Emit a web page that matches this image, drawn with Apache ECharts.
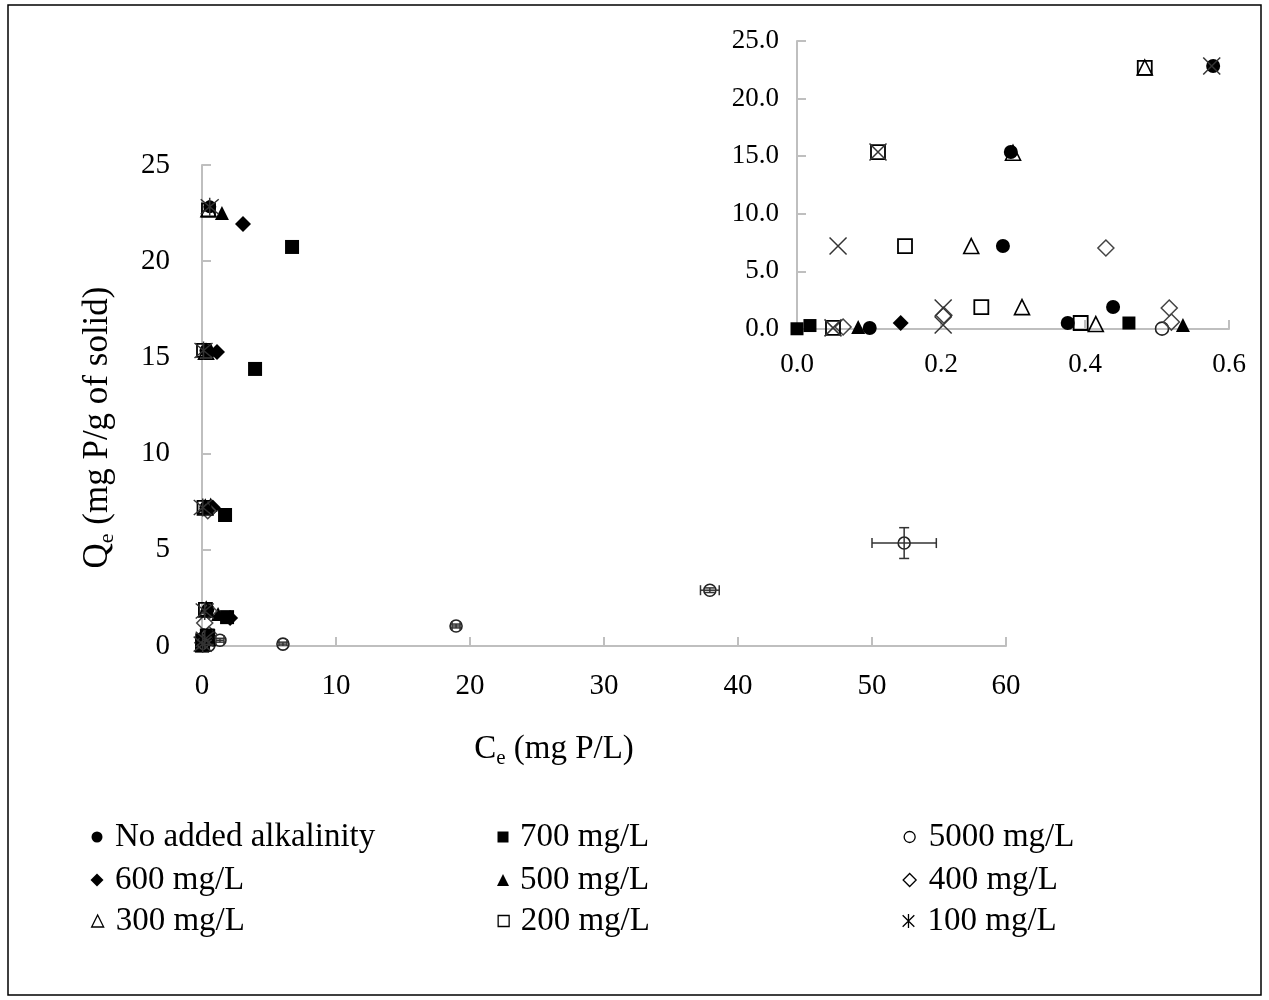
<!DOCTYPE html>
<html>
<head>
<meta charset="utf-8">
<title>Phosphorus sorption isotherms</title>
<script src="https://cdn.jsdelivr.net/npm/echarts@6/dist/echarts.min.js"></script>
<style>
  html, body { margin: 0; padding: 0; background: #fff; }
  #chart { width: 1269px; height: 1000px; }
</style>
</head>
<body>
<div id="chart"></div>
<script>
// Equilibrium data: [Ce (mg P/L), Qe (mg P/g of solid)] per alkalinity dose
const noAlkalinity = [[0.101, 0.09], [0.376, 0.52], [0.439, 1.91], [0.286, 7.2], [0.297, 15.36], [0.578, 22.83]];
const alk700 = [[0.0, 0.02], [0.018, 0.3], [0.461, 0.52], [1.87, 1.5], [1.72, 6.81], [3.96, 14.4], [6.72, 20.74]];
const alk5000 = [[0.507, 0.03], [1.34, 0.3], [6.04, 0.1], [18.96, 1.04], [37.9, 2.9], [52.4, 5.35]];
const alk600 = [[0.144, 0.52], [2.1, 1.45], [0.8, 7.2], [1.12, 15.28], [3.06, 21.93]];
const alk500 = [[0.085, 0.17], [0.536, 0.35], [1.2, 1.66], [0.65, 7.35], [0.65, 15.4], [1.49, 22.5]];
const alk400 = [[0.064, 0.17], [0.204, 1.2], [0.52, 0.6], [0.517, 1.82], [0.429, 7.03]];
const alk300 = [[0.415, 0.43], [0.3125, 1.9], [0.242, 7.2], [0.3, 15.3], [0.483, 22.7]];
const alk200 = [[0.05, 0.1], [0.394, 0.52], [0.256, 1.9], [0.15, 7.2], [0.1125, 15.36], [0.483, 22.66]];
const alk100 = [[0.05, 0.1], [0.203, 0.35], [0.203, 1.82], [0.057, 7.2], [0.1125, 15.36], [0.576, 22.83]];

// Standard deviations for the 5000 mg/L replicates (same order as alk5000)
const errCe5000 = [0.05, 0.3, 0.3, 0.3, 0.7, 2.4];
const errQe5000 = [0.05, 0.1, 0.1, 0.1, 0.12, 0.8];

// Axis ticks
const mainXTicks = { min: 0, max: 60, interval: 10 };
const mainYTicks = { min: 0, max: 25, interval: 5 };
const insetXTicks = { min: 0, max: 0.6, interval: 0.2 };
const insetYTicks = { min: 0, max: 25, interval: 5 };

const seriesNames = ['No added alkalinity', '700 mg/L', '5000 mg/L', '600 mg/L', '500 mg/L', '400 mg/L', '300 mg/L', '200 mg/L', '100 mg/L'];
const seriesData = [noAlkalinity, alk700, alk5000, alk600, alk500, alk400, alk300, alk200, alk100];

const FONT = '"Liberation Serif", "Times New Roman", serif';
const AXIS_GREY = '#bfbfbf';
const ASTERISK = 'path://M0,0L20,20M20,0L0,20M10,-2L10,22';
const CROSS = 'path://M0,0L20,20M20,0L0,20';

const filled = { color: '#000', borderWidth: 0, opacity: 1 };
const open = (c, w) => ({ color: 'rgba(0,0,0,0)', borderColor: c, borderWidth: w, opacity: 1 });

// Marker style per series: [symbol main, size main, symbol inset, size inset, itemStyle]
const markerStyles = [
  ['circle', 13, 'circle', 14, filled],
  ['rect', 14, 'rect', 13, filled],
  ['circle', 12, 'circle', 13, open('#222', 1.6)],
  ['diamond', 16, 'diamond', 16, filled],
  ['triangle', 14, 'triangle', 14, filled],
  ['diamond', 16, 'diamond', 16, open('#444', 1.5)],
  ['triangle', 15, 'triangle', 15, open('#000', 1.6)],
  ['rect', 13, 'rect', 14, open('#000', 1.8)],
  [ASTERISK, 18, CROSS, 17, open('#333', 1.5)]
];

function axisCommon(fontSize, margin, decimals) {
  return {
    type: 'value',
    splitLine: { show: false },
    axisLine: { show: true, onZero: false, lineStyle: { color: AXIS_GREY, width: 2 } },
    axisTick: { show: true, inside: true, length: 9, lineStyle: { color: AXIS_GREY, width: 2 } },
    axisLabel: {
      fontFamily: FONT, fontSize: fontSize, color: '#000', margin: margin,
      formatter: v => decimals ? v.toFixed(decimals) : String(Math.round(v))
    }
  };
}

const series = [];
seriesNames.forEach((name, i) => {
  const m = markerStyles[i];
  series.push({
    name: name, type: 'scatter', xAxisIndex: 0, yAxisIndex: 0,
    symbol: m[0], symbolSize: m[1], itemStyle: m[4], data: seriesData[i],
    clip: true, z: 2 + i
  });
  series.push({
    name: name, type: 'scatter', xAxisIndex: 1, yAxisIndex: 1,
    symbol: m[2], symbolSize: m[3], itemStyle: m[4], data: seriesData[i],
    clip: true, z: 2 + i
  });
});

// Error bars on the 5000 mg/L points
series.push({
  type: 'custom', xAxisIndex: 0, yAxisIndex: 0, clip: true, z: 20,
  data: alk5000.map((p, i) => [p[0], p[1], errCe5000[i], errQe5000[i]]),
  renderItem: function (params, api) {
    const x = api.value(0), y = api.value(1), ex = api.value(2), ey = api.value(3);
    const c = api.coord([x, y]);
    const l = api.coord([x - ex, y])[0], r = api.coord([x + ex, y])[0];
    const t = api.coord([x, y + ey])[1], b = api.coord([x, y - ey])[1];
    const cap = 5;
    const st = { stroke: '#333', lineWidth: 1.5 };
    return {
      type: 'group',
      children: [
        { type: 'line', shape: { x1: l, y1: c[1], x2: r, y2: c[1] }, style: st },
        { type: 'line', shape: { x1: l, y1: c[1] - cap, x2: l, y2: c[1] + cap }, style: st },
        { type: 'line', shape: { x1: r, y1: c[1] - cap, x2: r, y2: c[1] + cap }, style: st },
        { type: 'line', shape: { x1: c[0], y1: t, x2: c[0], y2: b }, style: st },
        { type: 'line', shape: { x1: c[0] - cap, y1: t, x2: c[0] + cap, y2: t }, style: st },
        { type: 'line', shape: { x1: c[0] - cap, y1: b, x2: c[0] + cap, y2: b }, style: st }
      ]
    };
  }
});

// Legend: three columns of three entries
const legendIcons = ['circle', 'rect', 'circle', 'diamond', 'triangle', 'diamond', 'triangle', 'rect', ASTERISK];
const legendIconSize = [11, 11, 11, 13, 12, 13, 12, 11, 14];
const legendCols = [97, 503, 909];
const legendTextX = [115, 520, 928];
const legendRows = [837, 880, 921];
const legends = seriesNames.map((name, i) => {
  const col = i % 3, row = Math.floor(i / 3);
  const s = legendIconSize[i];
  const st = markerStyles[i][4];
  const iconLeft = legendCols[col] - s / 2;
  const textPad = legendTextX[col] - (iconLeft + s + 5);
  return {
    show: true, orient: 'horizontal', padding: 0,
    left: iconLeft, top: legendRows[row] - 18,
    itemWidth: s, itemHeight: s, selectedMode: false,
    itemStyle: st.borderWidth ? { color: 'rgba(0,0,0,0)', borderColor: '#000', borderWidth: 1.3, opacity: 1 } : { color: '#000', borderWidth: 0, opacity: 1 },
    textStyle: { fontFamily: FONT, fontSize: 33, color: '#000', lineHeight: 36, padding: [0, 0, 0, textPad] },
    data: [{ name: name, icon: legendIcons[i] }]
  };
});

const richTitle = (size) => ({
  a: { fontFamily: FONT, fontSize: size, color: '#000' },
  s: { fontFamily: FONT, fontSize: Math.round(size * 0.64), color: '#000', padding: [Math.round(size * 0.55), 0, 0, 0] }
});

const option = {
  animation: false,
  backgroundColor: '#fff',
  grid: [
    { left: 202, right: 263, top: 165, bottom: 354 },
    { left: 797, right: 40, top: 41, bottom: 671 }
  ],
  xAxis: [
    Object.assign(axisCommon(29, 26, 0), {
      gridIndex: 0, min: mainXTicks.min, max: mainXTicks.max, interval: mainXTicks.interval,
      name: '{a|C}{s|e}{a| (mg P/L)}', nameLocation: 'middle', nameGap: 84,
      nameTextStyle: { rich: richTitle(33), padding: [0, 100, 0, 0] }
    }),
    Object.assign(axisCommon(27, 22, 1), {
      gridIndex: 1, min: insetXTicks.min, max: insetXTicks.max, interval: insetXTicks.interval
    })
  ],
  yAxis: [
    Object.assign(axisCommon(29, 32, 0), {
      gridIndex: 0, min: mainYTicks.min, max: mainYTicks.max, interval: mainYTicks.interval,
      name: '{a|Q}{s|e}{a| (mg P/g of solid)}', nameLocation: 'middle', nameGap: 84, nameRotate: 90,
      nameTextStyle: { rich: richTitle(35), padding: [0, 44, 0, 0] }
    }),
    Object.assign(axisCommon(27, 18, 1), {
      gridIndex: 1, min: insetYTicks.min, max: insetYTicks.max, interval: insetYTicks.interval
    })
  ],
  legend: legends,
  graphic: [
    { type: 'rect', shape: { x: 8, y: 5, width: 1253, height: 990 },
      style: { fill: 'none', stroke: '#000', lineWidth: 1.5 }, silent: true, z: -1 }
  ],
  series: series
};

const chart = echarts.init(document.getElementById('chart'), null, { renderer: 'canvas' });
chart.setOption(option);
</script>
</body>
</html>
